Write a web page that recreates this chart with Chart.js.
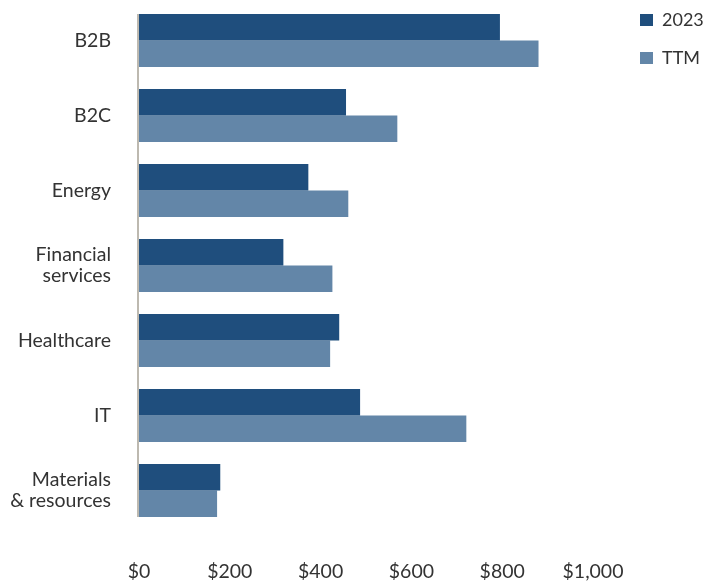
<!DOCTYPE html>
<html>
<head>
<meta charset="utf-8">
<script src="https://cdn.jsdelivr.net/npm/chart.js@4/dist/chart.umd.min.js"></script>
<style>
  html, body { margin: 0; padding: 0; background: #fff; }
  #wrap { width: 707px; height: 583px; }
</style>
</head>
<body>
<div id="wrap"><canvas id="myChart"></canvas></div>
<script>
const categories = ['B2B', 'B2C', 'Energy', ['Financial', 'services'], 'Healthcare', 'IT', ['Materials', '& resources']];
const values2023 = [795, 456, 373, 318, 441, 487, 179];
const valuesTTM = [880, 569, 461, 426, 421, 721, 172];
const tickValues = [0, 200, 400, 600, 800, 1000];

const font = "Lato, sans-serif";

// axis line only spans the bars, like the original
const baseLine = {
  id: 'baseLine',
  beforeDatasetsDraw(chart) {
    const first = chart.getDatasetMeta(0).data[0];
    const last = chart.getDatasetMeta(1).data[categories.length - 1];
    const x = chart.scales.x.getPixelForValue(0) - 1;
    const ctx = chart.ctx;
    ctx.save();
    ctx.strokeStyle = '#bdb9b0';
    ctx.lineWidth = 2;
    ctx.beginPath();
    ctx.moveTo(x, first.y - first.height / 2);
    ctx.lineTo(x, last.y + last.height / 2);
    ctx.stroke();
    ctx.restore();
  }
};

// push the legend into the top right corner
const legendSpot = {
  id: 'legendSpot',
  afterLayout(chart) {
    const l = chart.legend;
    l.left = 620; l.right = 707;
    l.top = -9; l.bottom = 583;
  }
};

const config = {
  type: 'bar',
  data: {
    labels: categories,
    datasets: [
      { label: '2023', data: values2023, backgroundColor: '#1f4e7d' },
      { label: 'TTM', data: valuesTTM, backgroundColor: '#6386a8' }
    ]
  },
  options: {
    indexAxis: 'y',
    responsive: true,
    maintainAspectRatio: false,
    animation: false,
    categoryPercentage: 0.708,
    barPercentage: 1,
    layout: { padding: 0 },
    plugins: {
      tooltip: { enabled: false },
      legend: {
        position: 'right',
        align: 'start',
        labels: {
          color: '#333',
          font: { family: font, size: 18, lineHeight: 1.333 },
          boxWidth: 13,
          boxHeight: 12,
          padding: 20
        }
      }
    },
    scales: {
      x: {
        min: 0,
        max: 1000,
        grid: { display: false, drawTicks: false },
        border: { display: false },
        afterBuildTicks: axis => { axis.ticks = tickValues.map(v => ({ value: v })); },
        afterFit: axis => {
          axis.height = 55;
          axis.paddingLeft = 0;
          axis.paddingRight = 114;
        },
        ticks: {
          color: '#333',
          padding: 32,
          font: { family: font, size: 19.5 },
          callback: v => '$' + v.toLocaleString('en-US')
        }
      },
      y: {
        grid: { display: false, drawTicks: false },
        border: { display: false },
        afterFit: axis => {
          axis.width = 139;
          axis.paddingTop = 3;
          axis.paddingBottom = 0;
        },
        ticks: {
          color: '#333',
          padding: 28,
          font: { family: font, size: 19.5, lineHeight: 1.08 }
        }
      }
    }
  },
  plugins: [baseLine, legendSpot]
};

const context = document.getElementById('myChart');
let myChart = new Chart(context, config);
</script>
</body>
</html>
